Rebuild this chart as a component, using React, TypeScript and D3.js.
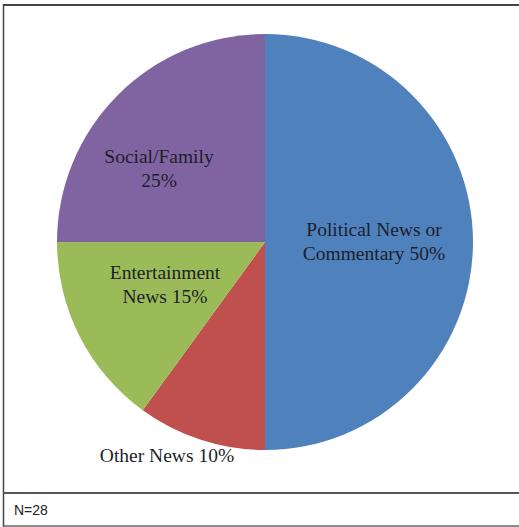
import React from "react";
import * as d3 from "d3";

const categories = ["Political News or Commentary", "Other News", "Entertainment News", "Social/Family"];
const values = [50, 10, 15, 25];
const colors = ["#4F81BD", "#C0504D", "#9BBB59", "#8064A2"];
const labelLines = [
  ["Political News or", "Commentary 50%"],
  ["Other News 10%"],
  ["Entertainment", "News 15%"],
  ["Social/Family", "25%"],
];
const note = "N=28";

const W = 519;
const H = 527;
const cx = 265;
const cy = 242;
const R = 208;

// label anchor positions (center x, first baseline y)
const labelPos: [number, number][] = [
  [374, 236],
  [167, 462],
  [165, 279],
  [159, 163],
];

export default function App() {
  const data = categories.map((c, i) => ({ c, v: values[i], i }));
  const pie = d3.pie<any>().value((d) => d.v).sort(null).startAngle(0).endAngle(2 * Math.PI);
  const arc = d3.arc<any>().innerRadius(0).outerRadius(R);
  const arcs = pie(data);

  return (
    <svg
      width={W}
      height={H}
      style={{ position: "absolute", left: 0, top: 0, background: "#fff" }}
    >
      <rect x={0} y={0} width={W} height={H} fill="#fff" />
      <g transform={`translate(${cx},${cy})`}>
        {arcs.map((a, i) => (
          <path key={i} d={arc(a) as string} fill={colors[i]} stroke="none" />
        ))}
      </g>
      {labelLines.map((lines, i) => (
        <text
          key={i}
          x={labelPos[i][0]}
          y={labelPos[i][1]}
          textAnchor="middle"
          fontFamily="'Liberation Serif', 'Times New Roman', serif"
          fontSize={19.5}
          fill="#1e1e2a"
        >
          {lines.map((l, j) => (
            <tspan key={j} x={labelPos[i][0]} dy={j === 0 ? 0 : 24}>
              {l}
            </tspan>
          ))}
        </text>
      ))}
      {/* frame */}
      <line x1={3} x2={W} y1={5} y2={5} stroke="#444" strokeWidth={2} />
      <line x1={3.5} x2={3.5} y1={4} y2={H} stroke="#444" strokeWidth={1.5} />
      <line x1={3} x2={W} y1={493} y2={493} stroke="#555" strokeWidth={2} />
      <line x1={3} x2={W} y1={526} y2={526} stroke="#666" strokeWidth={1.5} />
      <text
        x={14}
        y={515}
        fontFamily="'Liberation Sans', Arial, sans-serif"
        fontSize={14}
        fill="#222"
      >
        {note}
      </text>
    </svg>
  );
}
